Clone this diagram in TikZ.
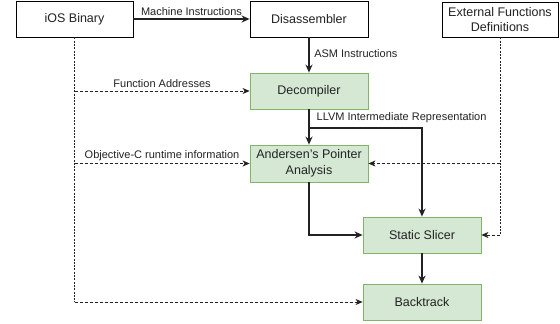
\documentclass[tikz,border=0pt]{standalone}
\usepackage{fontspec}
\setmainfont{Liberation Sans}
\usetikzlibrary{arrows.meta}
\definecolor{gfill}{HTML}{D5E8D4}
\definecolor{gdraw}{HTML}{82B366}
\definecolor{txt}{HTML}{222222}
\tikzset{
  box/.style={draw=black, line width=0.8pt, fill=white, minimum width=117pt, minimum height=36pt, inner sep=1pt, align=center, text=txt, font=\fontsize{12.5}{15.5}\selectfont},
  gbox/.style={box, draw=gdraw, fill=gfill},
  lbl/.style={font=\fontsize{11}{13}\selectfont, text=txt, inner sep=1.5pt},
  flow/.style={line width=1.5pt, draw=txt, -{Stealth[length=8pt,width=7pt,inset=2.5pt]}},
  flowline/.style={line width=1.5pt, draw=txt},
  dsh/.style={line width=0.8pt, draw=txt, dash pattern=on 3pt off 2pt, -{Stealth[length=7pt,width=6pt,inset=2pt]}},
  dotv/.style={line width=0.8pt, draw=txt, dash pattern=on 2pt off 1.3pt},
}
\begin{document}
\begin{tikzpicture}[x=1pt,y=-1pt]
\useasboundingbox (0,0) rectangle (560,324);
\node[box] (ios) at (74.5,19) {iOS Binary};
\node[box, minimum width=118pt] (dis) at (309,19) {Disassembler};
\node[box, minimum width=116pt, minimum height=35pt, font=\fontsize{12.5}{15}\selectfont] (ext) at (500,19.5) {External Functions\\Definitions};
\node[gbox, minimum width=118pt] (dec) at (309,91) {Decompiler};
\node[gbox, minimum width=118pt, minimum height=37pt, font=\fontsize{12.5}{16}\selectfont] (and) at (309,163.5) {Andersen's Pointer\\Analysis};
\node[gbox, minimum width=118pt] (sl) at (422,235) {Static Slicer};
\node[gbox, minimum width=118pt] (bt) at (422,302) {Backtrack};

% solid flows
\draw[flow] (ios.east) -- (dis.west) node[lbl, midway, above, yshift=1pt] {Machine Instructions};
\draw[flow] (dis.south) -- (dec.north) node[lbl, pos=0.45, right, xshift=3pt] {ASM Instructions};
\draw[flow] (dec.south) -- (and.north);
\coordinate (j) at (dec.south |- 0,128);
\node[lbl, anchor=west] (llvm) at (315,118) {LLVM Intermediate Representation};
\draw[flow] (j) -| (sl.north);
\draw[flow] (and.south) |- (sl.west);
\draw[flow] (sl.south) -- (bt.north);

% external functions
\coordinate (ea) at (ext.south |- and.east);
\coordinate (eb) at (ext.south |- sl.east);
\draw[dotv] (ext.south) -- (eb);
\draw[dsh] (ea) -- (and.east);
\draw[dsh] (eb) -- (sl.east);

% iOS binary
\coordinate (ia) at (ios.south |- dec.west);
\coordinate (ib) at (ios.south |- and.west);
\coordinate (ic) at (ios.south |- bt.west);
\draw[dotv] (ios.south) -- (ic);
\draw[dsh] (ia) -- (dec.west) node[lbl, midway, above, yshift=1pt] {Function Addresses};
\draw[dsh] (ib) -- (and.west) node[lbl, midway, above, yshift=1pt] {Objective-C runtime information};
\draw[dsh] (ic) -- (bt.west);
\end{tikzpicture}
\end{document}
